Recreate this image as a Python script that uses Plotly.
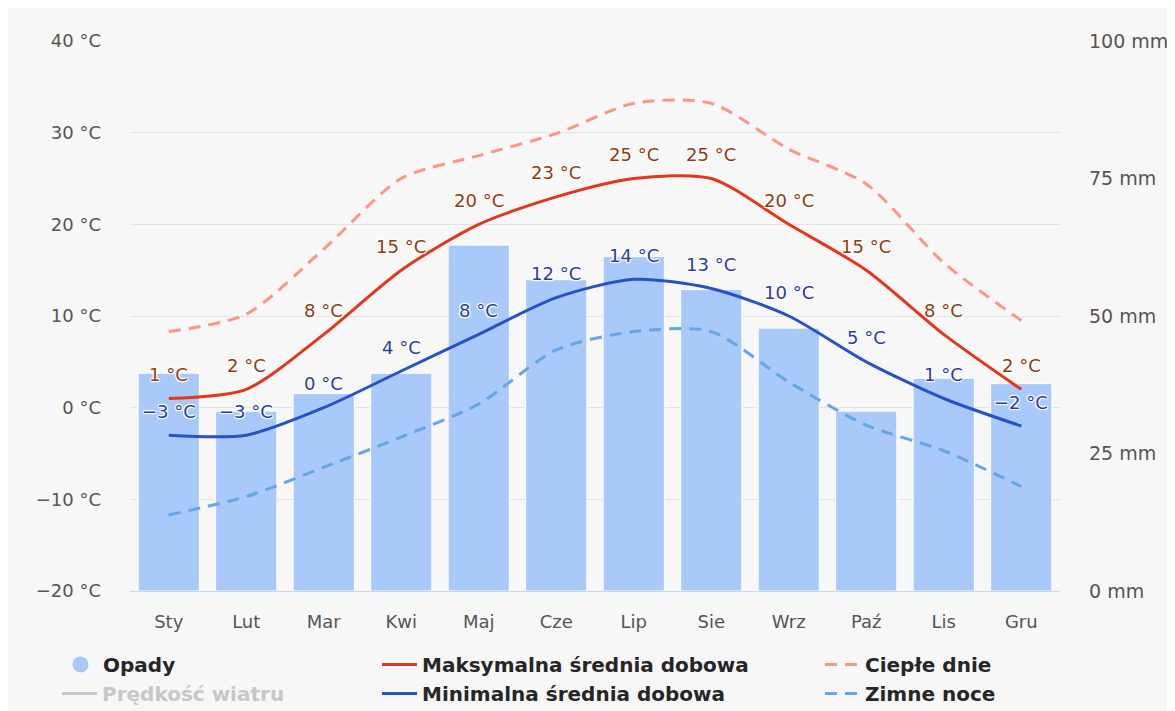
import plotly.graph_objects as go

months = ["Sty", "Lut", "Mar", "Kwi", "Maj", "Cze", "Lip", "Sie", "Wrz", "Paź", "Lis", "Gru"]
precip_mm = [39.6, 32.7, 35.9, 39.6, 62.9, 56.6, 60.8, 54.8, 47.8, 32.7, 38.7, 37.7]
max_avg = [1, 2, 8, 15, 20, 23, 25, 25, 20, 15, 8, 2]
min_avg = [-3, -3, 0, 4, 8, 12, 14, 13, 10, 5, 1, -2]
hot_days = [8.3, 10.2, 17.3, 25.0, 27.5, 29.9, 33.2, 33.2, 28.2, 24.4, 15.8, 9.5]
cold_nights = [-11.7, -9.7, -6.5, -3.2, 0.4, 6.3, 8.3, 8.3, 2.8, -1.9, -4.7, -8.6]
temp_ticks = [-20, -10, 0, 10, 20, 30, 40]
mm_ticks = [0, 25, 50, 75, 100]

FONT = "DejaVu Sans"
C_BAR = "#a9c9fb"
C_MAX = "#e2371c"
C_MIN = "#2652c6"
C_HOT = "#ff9587"
C_COLD = "#66a5e6"
SMOOTH = 0.75

def fmt(v):
    s = f"{v:g}"
    return s.replace("-", "\u2212")

fig = go.Figure()

# precipitation bars on the primary (mm) axis so that lines are drawn above them
fig.add_trace(go.Bar(
    x=months, y=precip_mm, yaxis="y", name="Opady", showlegend=False,
    legendgroup="opady", marker=dict(color=C_BAR, line=dict(color="#ffffff", width=1)),
    width=0.79, hoverinfo="skip"))

fig.add_trace(go.Scatter(
    x=months, y=hot_days, yaxis="y2", name="Ciepłe dnie", mode="lines", legend="legend3",
    line=dict(color=C_HOT, width=3, dash="12px,8px", shape="spline", smoothing=SMOOTH),
    hoverinfo="skip"))
fig.add_trace(go.Scatter(
    x=months, y=cold_nights, yaxis="y2", name="Zimne noce", mode="lines", legend="legend3",
    line=dict(color=C_COLD, width=3, dash="12px,8px", shape="spline", smoothing=SMOOTH),
    hoverinfo="skip"))
fig.add_trace(go.Scatter(
    x=months, y=max_avg, yaxis="y2", name="Maksymalna średnia dobowa", mode="lines", legend="legend2",
    line=dict(color=C_MAX, width=3, shape="spline", smoothing=SMOOTH), hoverinfo="skip"))
fig.add_trace(go.Scatter(
    x=months, y=min_avg, yaxis="y2", name="Minimalna średnia dobowa", mode="lines", legend="legend2",
    line=dict(color=C_MIN, width=3, shape="spline", smoothing=SMOOTH), hoverinfo="skip"))

# legend-only entries
fig.add_trace(go.Scatter(
    x=[None], y=[None], yaxis="y2", name="Opady", mode="markers", legend="legend", legendgroup="opady",
    marker=dict(color=C_BAR, size=20, symbol="circle"), hoverinfo="skip"))
fig.add_trace(go.Scatter(
    x=[None], y=[None], yaxis="y2", name="Prędkość wiatru", mode="lines", legend="legend4",
    visible="legendonly", line=dict(color="#999999", width=3), hoverinfo="skip"))

halo = "1px 1px 1px #fff, -1px -1px 1px #fff, 1px -1px 1px #fff, -1px 1px 1px #fff, 0 0 2px #fff"
annotations = []
for m, v in zip(months, max_avg):
    annotations.append(dict(x=m, y=v, xref="x", yref="y2", text=f"{fmt(v)} °C", showarrow=False,
                            yshift=24, font=dict(family=FONT, size=18, color="#8f3b12", shadow=halo)))
for m, v in zip(months, min_avg):
    annotations.append(dict(x=m, y=v, xref="x", yref="y2", text=f"{fmt(v)} °C", showarrow=False,
                            yshift=24, font=dict(family=FONT, size=18, color="#2b3ca0", shadow=halo)))

# figure coordinates (page body adds an 8px offset)
W, H = 1175, 780
L, R, T, B = 122, 1052, 33, 583
pw, ph = R - L, B - T

def px_x(px):
    return (px - L) / pw

def px_y(py):
    return (B - py) / ph

legend_font = dict(family=FONT, size=20, color="#262626", weight="bold")
leg_common = dict(xanchor="left", yanchor="top", orientation="v", bgcolor="rgba(0,0,0,0)",
                  tracegroupgap=0, itemwidth=35)

fig.update_layout(
    width=W, height=H,
    margin=dict(l=L, r=W - R, t=T, b=H - B, autoexpand=False),
    paper_bgcolor="#f7f7f7", plot_bgcolor="#f7f7f7",
    font=dict(family=FONT, size=18, color="#555555"),
    xaxis=dict(type="category", showgrid=False, ticks="", showline=True, linecolor="#ccd6eb",
               linewidth=1, tickfont=dict(size=18, color="#555555"), ticklabelstandoff=14,
               zeroline=False, fixedrange=True),
    yaxis=dict(range=[0, 100], tickvals=mm_ticks, ticktext=[f"{t} mm" for t in mm_ticks],
               side="right", showgrid=False, zeroline=False, ticks="",
               tickfont=dict(size=19, color="#555555"), ticklabelstandoff=28, fixedrange=True),
    yaxis2=dict(range=[-20, 40], tickvals=temp_ticks, ticktext=[f"{fmt(t)} °C" for t in temp_ticks],
                overlaying="y", side="left", showgrid=True, gridcolor="#e3e3e3", gridwidth=1,
                zeroline=False, ticks="", tickfont=dict(size=18, color="#555555"),
                ticklabelstandoff=28, fixedrange=True),
    annotations=annotations,
    legend=dict(x=px_x(50), y=px_y(637), font=legend_font, **leg_common),
    legend4=dict(x=px_x(49), y=px_y(666), font=dict(family=FONT, size=20, color="#999999", weight="bold"),
                 **leg_common),
    legend2=dict(x=px_x(369), y=px_y(637), font=legend_font, **leg_common),
    legend3=dict(x=px_x(812), y=px_y(637), font=legend_font, **leg_common),
    hovermode=False,
)

fig.write_html("out.html")
